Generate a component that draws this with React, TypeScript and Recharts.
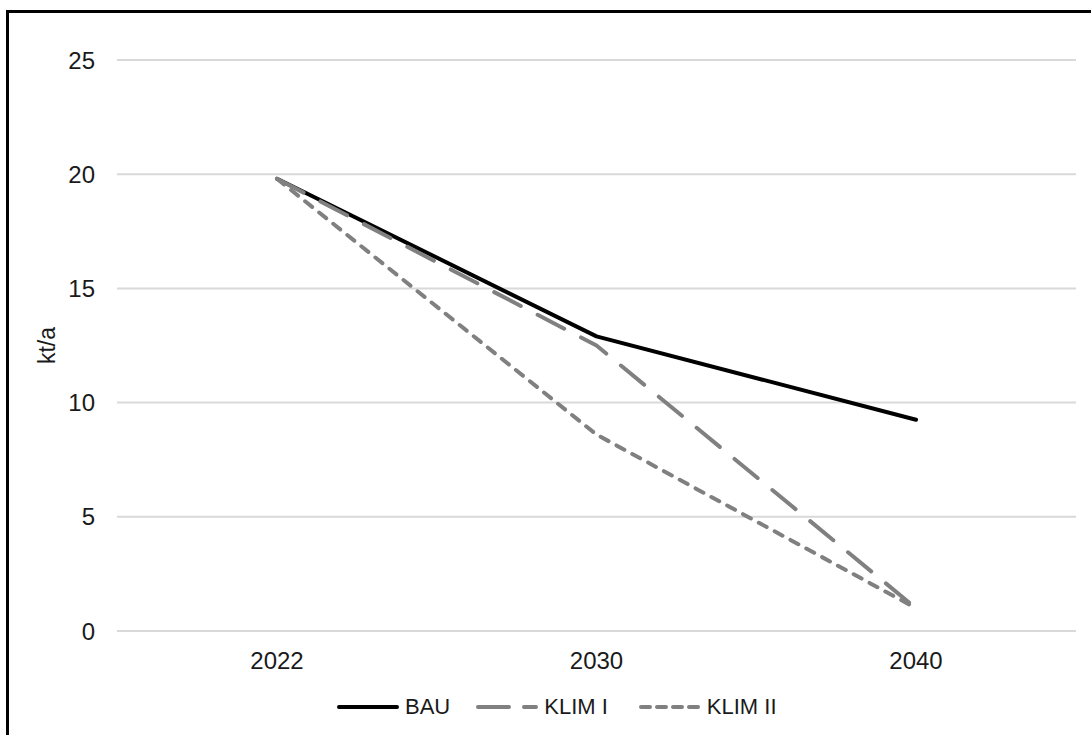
import React from 'react';
import { LineChart, Line, XAxis, YAxis, CartesianGrid, Legend } from 'recharts';

const years = ['2022', '2030', '2040'];
const bau = [19.8, 12.9, 9.25];
const klimI = [19.8, 12.5, 1.0];
const klimII = [19.8, 8.6, 1.0];
const yTicks = [0, 5, 10, 15, 20, 25];

const seriesInfo = [
  { key: 'bau', name: 'BAU', color: '#000000', dash: undefined },
  { key: 'klimI', name: 'KLIM I', color: '#808080', dash: '30 19' },
  { key: 'klimII', name: 'KLIM II', color: '#808080', dash: '9 9' },
];

const data = years.map((year, i) => ({
  year,
  bau: bau[i],
  klimI: klimI[i],
  klimII: klimII[i],
}));

const font = '"Liberation Sans", Arial, sans-serif';
const legendGaps = [26, 31, 0];

function renderLegend() {
  return (
    <div style={{ height: 30, display: 'flex', alignItems: 'center', paddingLeft: 337, fontFamily: font, fontSize: 22, color: '#1a1a1a' }}>
      {seriesInfo.map((s, i) => (
        <div key={s.key} style={{ display: 'flex', alignItems: 'center', marginRight: legendGaps[i] }}>
          <svg width={62} height={10}>
            <line x1={2} y1={5} x2={60} y2={5} stroke={s.color} strokeWidth={4}
              strokeDasharray={s.key === 'klimI' ? '31 15' : s.key === 'klimII' ? '9 7' : undefined}
              strokeLinecap="round" />
          </svg>
          <span style={{ marginLeft: 6 }}>{s.name}</span>
        </div>
      ))}
    </div>
  );
}

function YLabel(props: any) {
  const vb = props.viewBox || { x: 0, y: 0, height: 0 };
  const cx = vb.x + 47;
  const cy = vb.y + vb.height / 2;
  return (
    <text x={cx} y={cy} transform={`rotate(-90 ${cx} ${cy})`} textAnchor="middle" dominantBaseline="central"
      fontFamily={font} fontSize={23} fill="#1a1a1a">kt/a</text>
  );
}

export default function App() {
  return (
    <div style={{ position: 'fixed', left: 0, top: 0, width: 1091, height: 735, overflow: 'hidden', background: '#fff' }}>
      <div style={{ position: 'absolute', left: 6, top: 10, width: 1120, height: 760, border: '3px solid #000', boxSizing: 'border-box' }} />
      <div style={{ position: 'absolute', left: 0, top: 0 }}>
        <LineChart width={1091} height={735} data={data} margin={{ top: 60, right: 15, bottom: 13, left: 0 }}>
          <CartesianGrid vertical={false} stroke="#d9d9d9" strokeWidth={2} />
          <XAxis dataKey="year" padding={{ left: 160, right: 160 }} height={61}
            axisLine={{ stroke: '#d9d9d9', strokeWidth: 2 }} tickLine={false} tickSize={0} tickMargin={21}
            tick={{ fontFamily: font, fontSize: 24, fill: '#1a1a1a' }} />
          <YAxis domain={[0, 25]} ticks={yTicks} width={117} axisLine={false} tickLine={false} tickSize={0} tickMargin={22}
            tick={{ fontFamily: font, fontSize: 24, fill: '#1a1a1a' }} label={<YLabel />} />
          <Legend verticalAlign="bottom" content={renderLegend} />
          {seriesInfo.map((s) => (
            <Line key={s.key} type="linear" dataKey={s.key} name={s.name} stroke={s.color} strokeWidth={4}
              strokeDasharray={s.dash} strokeLinecap="round" strokeLinejoin="round" dot={false}
              activeDot={false} isAnimationActive={false} />
          ))}
        </LineChart>
      </div>
    </div>
  );
}
